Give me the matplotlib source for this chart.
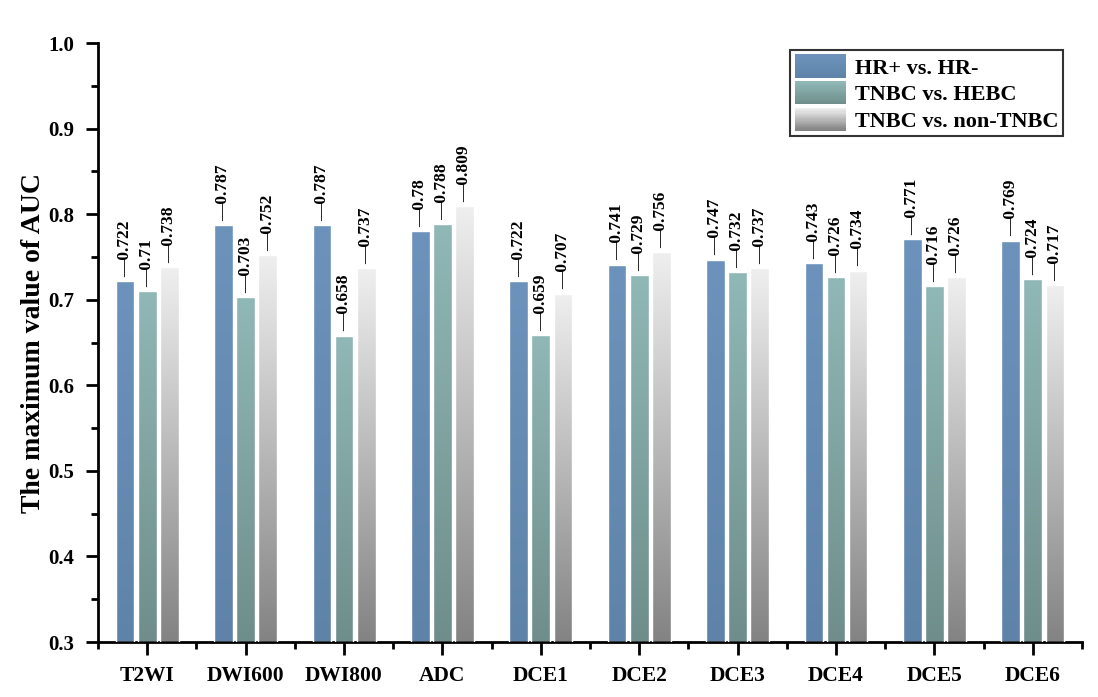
import matplotlib
matplotlib.use("Agg")
from matplotlib import pyplot as plt
from matplotlib.legend_handler import HandlerBase
from matplotlib.patches import Rectangle
from matplotlib.colors import LinearSegmentedColormap
from matplotlib.ticker import MultipleLocator, FixedLocator
import numpy as np

plt.rcParams['font.family'] = ['Liberation Serif', 'DejaVu Serif']
plt.rcParams['font.weight'] = 'bold'

categorias = ['T2WI', 'DWI600', 'DWI800', 'ADC', 'DCE1', 'DCE2', 'DCE3', 'DCE4', 'DCE5', 'DCE6']
series = ['HR+ vs. HR-', 'TNBC vs. HEBC', 'TNBC vs. non-TNBC']
hr = [0.722, 0.787, 0.787, 0.78, 0.722, 0.741, 0.747, 0.743, 0.771, 0.769]
tnbc_hebc = [0.71, 0.703, 0.658, 0.788, 0.659, 0.729, 0.732, 0.726, 0.716, 0.724]
tnbc_non = [0.738, 0.752, 0.737, 0.809, 0.707, 0.756, 0.737, 0.734, 0.726, 0.717]

# colores del degradado (abajo, arriba)
gradientes = [('#5f83a8', '#6d93bc'), ('#6f8e8b', '#90b8b6'), ('#838383', '#efefef')]
cmaps = [LinearSegmentedColormap.from_list('g%d' % i, [a, b]) for i, (a, b) in enumerate(gradientes)]

fig = plt.figure(figsize=(10.98, 6.97), dpi=100)
ax = fig.add_axes([0.0893, 0.0789, 0.8961, 0.8594])

x = np.arange(len(categorias))
ancho = 0.19
offsets = [-0.225, 0.0, 0.225]
grad = np.linspace(0, 1, 256).reshape(-1, 1)

for datos, off, cm in zip([hr, tnbc_hebc, tnbc_non], offsets, cmaps):
    barras = ax.bar(x + off, np.array(datos) - 0.3, width=ancho, bottom=0.3,
                    color='none', edgecolor='white', linewidth=1.0, zorder=3)
    for rect, v in zip(barras, datos):
        x0, y0 = rect.get_x(), rect.get_y()
        w, h = rect.get_width(), rect.get_height()
        im = ax.imshow(grad, cmap=cm, origin='lower', aspect='auto',
                       extent=[x0, x0 + w, y0, y0 + h], zorder=2)
        im.set_clip_path(rect)
        ax.text(x0 + w / 2, v + 0.005, '—' + ('%g' % v), rotation=90,
                ha='center', va='bottom', fontsize=12.5, fontweight='bold')

ax.set_xlim(-0.5, len(categorias) - 0.5)
ax.set_ylim(0.3, 1.0)

ax.set_xticks(x)
ax.set_xticklabels(categorias, fontsize=15.5, fontweight='bold')
ax.xaxis.set_minor_locator(FixedLocator(np.arange(-0.5, len(categorias), 1.0)))
ax.yaxis.set_major_locator(MultipleLocator(0.1))
ax.yaxis.set_minor_locator(MultipleLocator(0.05))
ax.set_yticklabels(['%.1f' % t for t in ax.get_yticks()], fontsize=15, fontweight='bold')

ax.tick_params(which='major', direction='out', length=9, width=2, pad=8)
ax.tick_params(which='minor', direction='out', length=5, width=2)
for lado in ['top', 'right']:
    ax.spines[lado].set_visible(False)
for lado in ['left', 'bottom']:
    ax.spines[lado].set_linewidth(2)

ax.set_ylabel('The maximum value of AUC', fontsize=20, fontweight='bold', labelpad=2)


class HandlerGradiente(HandlerBase):
    def __init__(self, cm):
        super().__init__()
        self.cm = cm

    def create_artists(self, legend, orig_handle, xdescent, ydescent, width, height, fontsize, trans):
        n = 20
        arts = []
        for i in range(n):
            r = Rectangle((-xdescent, -ydescent + height * i / n), width, height / n + 0.3,
                          facecolor=self.cm(i / (n - 1)), edgecolor='none', transform=trans)
            arts.append(r)
        return arts


handles = [Rectangle((0, 0), 1, 1) for _ in series]
leg = ax.legend(handles, series, loc='upper right', bbox_to_anchor=(0.985, 0.995),
                handler_map={h: HandlerGradiente(cm) for h, cm in zip(handles, cmaps)},
                prop={'size': 16, 'weight': 'bold'}, frameon=True, fancybox=False,
                handlelength=2.3, handleheight=1.2, handletextpad=0.4,
                labelspacing=0.12, borderpad=0.2, borderaxespad=0.2)
leg.get_frame().set_edgecolor('black')
leg.get_frame().set_linewidth(1.5)

plt.savefig('out.png', dpi=100)
